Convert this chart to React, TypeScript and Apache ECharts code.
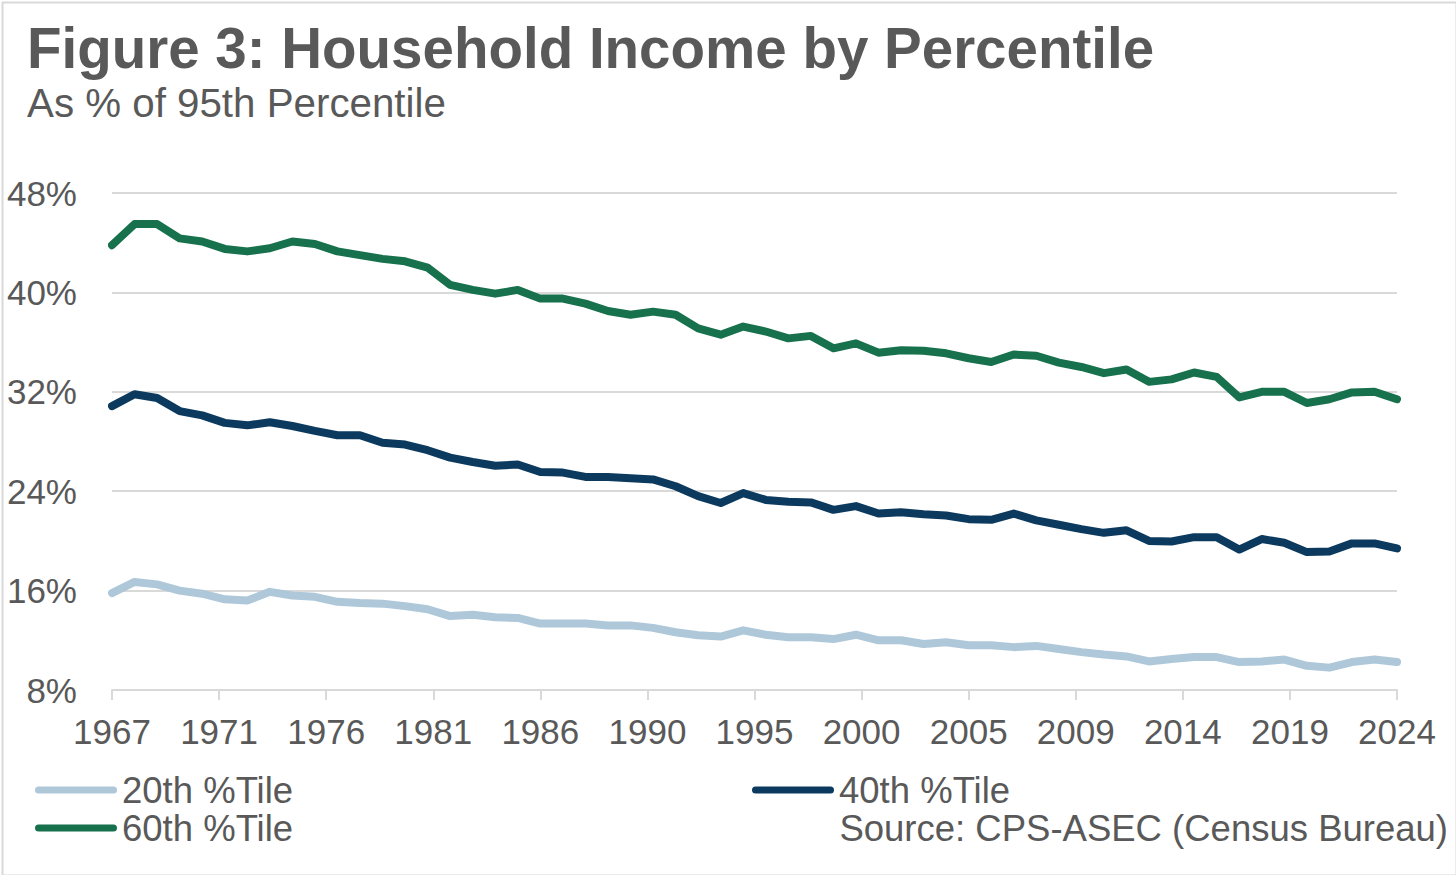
import React, { useEffect, useRef } from "react";
import * as echarts from "echarts";

const years: number[] = [];
for (let y = 1967; y <= 2024; y++) years.push(y);

const p20 = [
  15.8, 16.7, 16.5, 16.0, 15.75, 15.3, 15.2, 15.9, 15.6, 15.5,
  15.1, 15.0, 14.95, 14.75, 14.5, 13.95, 14.05, 13.85, 13.8, 13.35,
  13.35, 13.35, 13.2, 13.2, 13.0, 12.65, 12.4, 12.3, 12.8, 12.45,
  12.25, 12.25, 12.1, 12.45, 12.0, 12.0, 11.7, 11.85, 11.6, 11.6,
  11.45, 11.55, 11.3, 11.05, 10.85, 10.7, 10.3, 10.5, 10.65, 10.65,
  10.25, 10.3, 10.45, 9.95, 9.8, 10.25, 10.45, 10.25,
];

const p40 = [
  30.85, 31.8, 31.5, 30.45, 30.1, 29.5, 29.3, 29.55, 29.25, 28.85,
  28.5, 28.5, 27.9, 27.75, 27.3, 26.7, 26.35, 26.05, 26.15, 25.55,
  25.5, 25.15, 25.15, 25.05, 24.95, 24.4, 23.6, 23.05, 23.85, 23.3,
  23.15, 23.1, 22.5, 22.8, 22.2, 22.3, 22.15, 22.05, 21.75, 21.7,
  22.2, 21.65, 21.3, 20.95, 20.65, 20.85, 20.0, 19.95, 20.3, 20.3,
  19.3, 20.15, 19.85, 19.1, 19.15, 19.8, 19.8, 19.4,
];

const p60 = [
  43.8, 45.5, 45.5, 44.35, 44.1, 43.5, 43.3, 43.55, 44.1, 43.9,
  43.3, 43.0, 42.7, 42.5, 42.0, 40.6, 40.2, 39.9, 40.2, 39.5,
  39.5, 39.1, 38.5, 38.2, 38.45, 38.2, 37.1, 36.6, 37.25, 36.85,
  36.3, 36.5, 35.5, 35.9, 35.15, 35.35, 35.3, 35.1, 34.7, 34.4,
  35.0, 34.9, 34.35, 34.0, 33.5, 33.8, 32.8, 33.0, 33.55, 33.2,
  31.55, 32.0, 32.0, 31.1, 31.4, 31.95, 32.0, 31.4,
];

const seriesNames = ["20th %Tile", "40th %Tile", "60th %Tile"];
const seriesColors = ["#aec8da", "#0c3a5e", "#17714c"];
const yTicks = { min: 8, max: 48, step: 8 };
const firstYear = 1967;
const lastYear = 2024;
const xLabelStep = (lastYear - firstYear) / 12;

const FONT = "'Liberation Sans', Arial, sans-serif";
const GREY = "#595959";

export default function App() {
  const ref = useRef<HTMLDivElement>(null);

  useEffect(() => {
    document.body.style.margin = "0";
    if (!ref.current) return;
    const chart = echarts.init(ref.current, undefined, { renderer: "svg" });
    const toData = (vals: number[]) => years.map((y, i) => [y - firstYear, vals[i]]);
    const legendIcon =
      "path://M3.5,0 L78.5,0 A3.5,3.5 0 0 1 78.5,7 L3.5,7 A3.5,3.5 0 0 1 3.5,0 Z";
    const legendBase = {
      orient: "horizontal",
      padding: 0,
      itemWidth: 82,
      itemHeight: 7,
      icon: legendIcon,
      textStyle: { color: GREY, fontSize: 36.5, fontFamily: FONT, lineHeight: 38 },
      selectedMode: false,
    };
    chart.setOption({
      animation: false,
      backgroundColor: "#ffffff",
      textStyle: { fontFamily: FONT },
      title: [
        {
          text: "Figure 3: Household Income by Percentile",
          left: 27,
          top: 20,
          padding: 0,
          textStyle: { color: GREY, fontSize: 56.5, fontWeight: "bold", fontFamily: FONT },
        },
        {
          text: "As % of 95th Percentile",
          left: 27,
          top: 83,
          padding: 0,
          textStyle: { color: GREY, fontSize: 40.3, fontWeight: "normal", fontFamily: FONT },
        },
      ],
      legend: [
        { ...legendBase, left: 35, top: 771, data: [seriesNames[0]] },
        { ...legendBase, left: 752, top: 771, data: [seriesNames[1]] },
        { ...legendBase, left: 35, top: 809, data: [seriesNames[2]] },
      ],
      grid: { left: 112, right: 59, top: 193, bottom: 185, containLabel: false },
      xAxis: {
        type: "value",
        min: 0,
        max: lastYear - firstYear,
        interval: xLabelStep,
        axisLine: { show: true, lineStyle: { color: "#d9d9d9", width: 2 } },
        axisTick: { show: true, length: 10, lineStyle: { color: "#d9d9d9", width: 2 } },
        splitLine: { show: false },
        axisLabel: {
          color: GREY,
          fontSize: 35,
          fontFamily: FONT,
          margin: 24,
          formatter: (v: number) => String(Math.floor(firstYear + v + 1e-6)),
        },
      },
      yAxis: {
        type: "value",
        min: yTicks.min,
        max: yTicks.max,
        interval: yTicks.step,
        axisLine: { show: false },
        axisTick: { show: false },
        splitLine: { show: true, lineStyle: { color: "#d9d9d9", width: 2 } },
        axisLabel: {
          color: GREY,
          fontSize: 35,
          fontFamily: FONT,
          margin: 35,
          formatter: "{value}%",
        },
      },
      series: [p20, p40, p60].map((vals, i) => ({
        name: seriesNames[i],
        type: "line",
        data: toData(vals),
        showSymbol: false,
        symbol: "none",
        color: seriesColors[i],
        lineStyle: { color: seriesColors[i], width: 8, cap: "round", join: "round" },
        z: 3 + i,
      })),
      graphic: [
        {
          type: "rect",
          left: 0,
          top: 0,
          shape: { x: 1, y: 1, width: 1454, height: 873 },
          style: { fill: "none", stroke: "#d9d9d9", lineWidth: 2 },
          silent: true,
        },
        {
          type: "text",
          right: 8,
          top: 809,
          style: {
            text: "Source: CPS-ASEC (Census Bureau)",
            fill: GREY,
            fontSize: 36.5,
            fontFamily: FONT,
            lineHeight: 38,
          },
        },
      ],
    });
    return () => chart.dispose();
  }, []);

  return <div ref={ref} style={{ width: 1456, height: 875 }} />;
}
